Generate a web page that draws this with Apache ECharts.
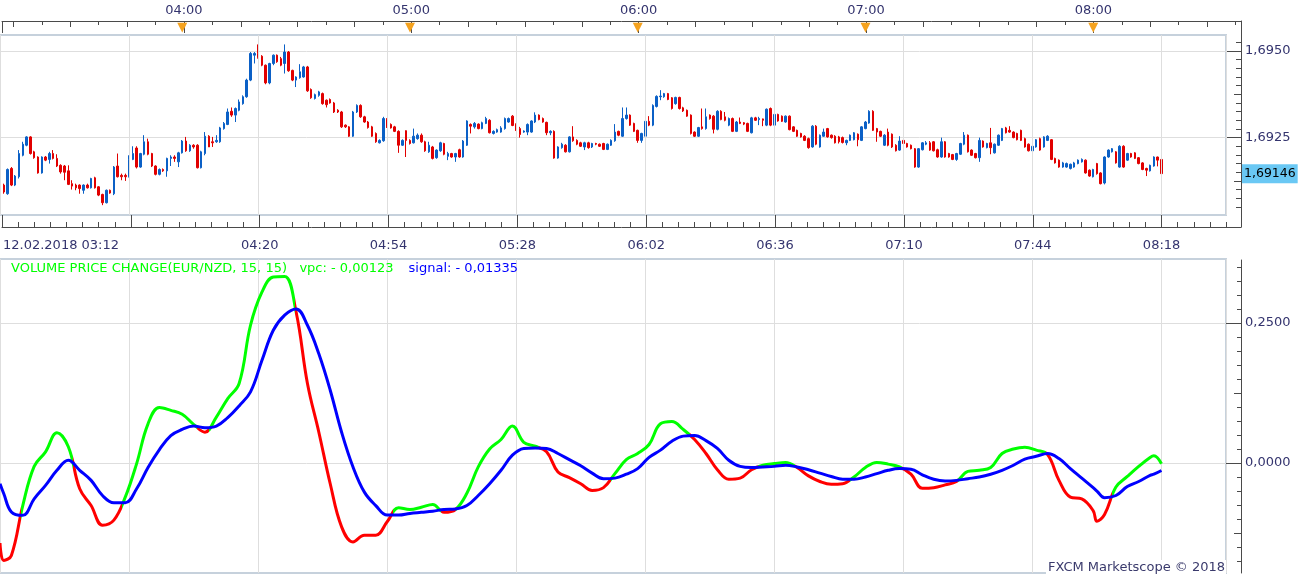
<!DOCTYPE html>
<html>
<head>
<meta charset="utf-8">
<title>EUR/NZD - Volume Price Change</title>
<script src="https://cdn.jsdelivr.net/npm/echarts@6.0.0/dist/echarts.min.js"></script>
<style>
  html, body { margin: 0; padding: 0; background: #fff; }
  #chart { width: 1307px; height: 576px; }
</style>
</head>
<body>
<div id="chart"></div>
<script>
// EUR/NZD, 1 minute candles, 12.02.2018 03:12 .. 08:18
// prices are points above 1.69000 (1 point = 0.00001)
const PRICE_BASE = 1.69;
const START_TIME = 3 * 60 + 12; // 03:12

const opens = [
  146,113,88,161,113,137,199,228,252,209, 194,148,194,187,204,190,170,168,154,117,
  113,113,98,113,105,134,108,86,62,98, 88,168,141,141,137,187,220,165,202,238,
  204,168,144,158,154,190,194,180,206,240, 212,228,228,163,204,254,238,238,238,276,
  288,326,315,329,348,368,416,488,493,485, 459,408,464,488,478,464,497,444,416,423,
  425,454,389,363,372,377,358,360,350,329, 324,286,281,254,324,343,310,295,281,262,
  235,241,303,288,281,268,228,270,242,235, 247,257,238,209,223,192,212,233,196,204,
  194,215,194,228,288,281,289,276,291,300, 262,266,266,276,295,312,289,276,266,266,
  266,295,315,305,294,264,268,191,221,228, 209,252,242,235,223,235,223,233,231,233,
  216,228,241,268,254,305,315,291,271,242, 254,297,286,340,368,368,377,365,348,366,
  336,329,315,266,254,281,276,315,312,274, 326,310,286,305,268,295,293,291,264,307,
  302,304,286,334,286,317,312,295,312,281, 271,262,254,247,223,283,223,254,276,257,
  254,252,250,235,242,244,260,242,276,292, 326,276,268,228,266,260,228,214,242,233,
  228,218,165,215,231,235,238,215,194,238, 204,201,187,202,231,257,214,204,192,240,
  221,235,206,228,242,278,271,266,262,271, 247,231,212,223,247,223,242,244,190,185,
  165,165,161,165,175,180,185,156,137,175, 148,119,194,209,209,165,225,185,204,206,
  192,177,161,154,168,194,187
];
const closes = [
  90,93,158,113,139,204,231,252,204,192, 148,194,185,204,190,168,151,150,115,110,
  105,103,113,105,132,105,84,62,98,90, 165,137,137,137,187,204,165,204,238,202,
  168,144,158,154,190,194,190,206,240,212, 228,223,163,209,254,223,235,242,278,291,
  324,315,334,353,368,416,493,493,481,459, 408,464,488,469,459,497,443,416,425,440,
  454,385,365,374,382,348,345,350,324,324, 281,281,254,324,343,310,295,279,254,238,
  242,305,281,278,268,228,242,242,233,254, 257,238,212,228,190,214,235,202,204,194,
  204,194,240,298,283,291,276,293,305,264, 268,273,278,305,305,285,271,259,269,288,
  298,315,302,295,264,268,191,223,231,209, 252,241,231,225,235,221,233,231,225,216,
  231,242,266,257,305,315,286,268,242,262, 297,286,343,369,370,377,360,334,366,334,
  327,312,262,254,279,276,310,305,274,326, 302,300,305,268,295,291,289,268,307,300,
  305,300,332,286,317,298,297,312,273,268, 254,252,242,221,283,231,257,266,252,250,
  235,238,236,242,257,264,244,281,295,326, 271,266,254,257,228,223,212,240,233,223,
  218,165,218,235,235,214,212,194,238,194, 194,187,204,233,257,209,199,192,242,223,
  233,221,231,257,276,264,266,250,244,242, 223,212,225,244,214,252,254,187,177,165,
  177,175,173,177,185,187,148,139,158,146, 117,194,214,218,177,225,165,204,194,190,
  175,158,156,170,194,185,146
];
const lows = [
  86,88,85,110,110,132,196,225,201,189, 146,146,182,175,187,165,146,127,113,100,
  98,88,88,103,103,103,81,55,60,88, 84,135,127,125,135,185,161,163,199,199,
  165,141,141,151,137,168,180,165,204,209, 209,218,161,161,199,223,223,235,235,273,
  286,310,295,326,345,365,413,464,478,456, 404,404,459,466,456,435,440,413,396,420,
  423,382,362,360,368,345,337,348,321,321, 278,278,252,252,321,307,293,276,252,235,
  233,238,278,276,266,206,226,194,230,233, 244,235,209,206,187,189,209,199,185,192,
  180,192,192,226,262,276,274,274,289,262, 259,264,264,273,293,283,269,250,264,257,
  264,292,300,293,257,257,189,189,218,207, 207,238,228,223,214,218,220,228,223,214,
  214,226,238,254,252,302,284,266,235,235, 252,283,283,337,358,365,358,331,345,331,
  324,310,259,252,252,273,273,302,262,271, 300,297,283,266,266,289,286,266,262,298,
  286,283,283,283,283,296,295,293,271,266, 252,250,240,218,221,228,221,252,250,247,
  233,233,233,228,240,242,225,240,274,290, 269,238,252,226,225,220,210,212,231,221,
  216,163,163,213,228,212,210,192,192,192, 192,185,183,200,228,207,197,190,180,221,
  219,202,204,226,240,262,264,248,242,240, 221,210,210,221,212,221,240,185,175,163,
  163,163,158,163,173,178,146,137,135,143, 115,115,192,207,175,163,163,183,192,188,
  173,156,139,152,166,167,144
];
const highs = [
  151,117,161,165,142,214,238,254,254,212, 196,196,197,209,214,202,173,171,170,127,
  117,115,115,117,134,137,110,88,100,100, 168,204,146,146,199,225,225,206,257,247,
  206,170,161,161,192,199,199,209,243,252, 231,231,231,212,266,257,252,257,281,295,
  334,337,337,360,372,420,497,497,519,488, 461,466,490,490,483,519,500,446,427,462,
  457,457,392,377,385,380,360,363,353,332, 327,288,283,327,346,346,313,298,284,265,
  245,310,306,291,284,271,245,271,245,276, 262,262,241,238,226,216,238,235,209,206,
  206,218,243,300,291,295,291,296,310,303, 271,276,283,308,308,315,291,281,271,291,
  300,323,317,308,296,271,271,225,235,231, 254,283,245,238,238,238,235,235,233,235,
  233,245,289,270,337,337,317,293,273,264, 300,312,346,372,387,379,379,367,368,368,
  339,331,317,268,281,334,334,317,315,329, 329,324,308,308,298,308,295,293,310,310,
  310,305,334,337,319,319,314,314,314,283, 273,264,257,250,286,286,259,276,278,259,
  257,255,253,244,259,266,262,283,298,329, 329,278,270,260,276,262,231,254,244,235,
  230,220,220,237,240,240,240,218,250,240, 206,203,206,235,266,259,216,206,250,242,
  235,278,233,259,278,281,283,268,264,273, 250,233,228,246,250,254,257,246,192,187,
  180,178,175,180,187,190,187,158,160,177, 150,196,216,220,211,228,228,206,206,208,
  194,179,163,172,196,195,189
];

// Volume Price Change (15, 15): minutes after 03:12, vpc and signal values
const lineMinutes = [
  0,1,3,6,9,12,15,18,21,24,27,30,33,36,39,42,45,48,51,54,57,60,63,66,69,72,75,78,81,84,
  87,90,93,96,99,102,105,108,111,114,117,120,123,126,129,132,135,138,141,144,147,150,153,156,159,162,165,168,171,174,
  177,180,183,186,189,192,195,198,201,204,207,210,213,216,219,222,225,228,231,234,237,240,243,246,249,252,255,258,261,264,
  267,270,273,276,279,282,285,288,289,291,294,297,300,303,304,306
];
const vpc = [
  -0.143,-0.174,-0.165,-0.076,-0.006,0.020,0.054,0.029,-0.046,-0.076,-0.111,-0.102,-0.061,-0.001,0.070,0.099,0.094,0.087,0.069,0.055,
  0.082,0.115,0.142,0.246,0.305,0.332,0.333,0.270,0.142,0.055,-0.037,-0.114,-0.141,-0.129,-0.129,-0.105,-0.080,-0.083,-0.079,-0.074,
  -0.088,-0.083,-0.054,-0.007,0.025,0.042,0.066,0.037,0.030,0.020,-0.016,-0.026,-0.037,-0.049,-0.044,-0.019,0.006,0.017,0.033,0.070,
  0.074,0.060,0.042,0.017,-0.012,-0.029,-0.027,-0.012,-0.004,-0.001,0.001,-0.008,-0.023,-0.033,-0.038,-0.037,-0.025,-0.008,0.001,-0.002,
  -0.007,-0.020,-0.045,-0.044,-0.039,-0.033,-0.015,-0.013,-0.008,0.017,0.025,0.028,0.023,0.015,-0.031,-0.061,-0.064,-0.085,-0.104,-0.092,
  -0.043,-0.024,-0.006,0.010,0.013,-0.00123
];
const signal = [
  -0.037,-0.055,-0.0875,-0.0935,-0.064,-0.040,-0.013,0.005,-0.013,-0.031,-0.058,-0.071,-0.071,-0.046,-0.008,0.024,0.049,0.060,0.066,0.063,
  0.066,0.081,0.102,0.127,0.183,0.237,0.264,0.275,0.246,0.195,0.130,0.055,-0.007,-0.052,-0.076,-0.093,-0.093,-0.090,-0.088,-0.086,
  -0.083,-0.082,-0.076,-0.058,-0.037,-0.013,0.014,0.026,0.027,0.026,0.017,0.006,-0.005,-0.018,-0.028,-0.027,-0.020,-0.010,0.010,0.023,
  0.039,0.048,0.049,0.040,0.026,0.005,-0.006,-0.008,-0.007,-0.006,-0.004,-0.007,-0.012,-0.018,-0.024,-0.029,-0.029,-0.025,-0.019,-0.013,
  -0.010,-0.011,-0.021,-0.029,-0.032,-0.031,-0.028,-0.025,-0.020,-0.013,-0.004,0.007,0.012,0.017,0.008,-0.010,-0.027,-0.044,-0.050,-0.062,
  -0.058,-0.042,-0.033,-0.022,-0.020,-0.01335
];

// axis marks
const hourMarks = [48, 108, 168, 228, 288];                 // 04:00 .. 08:00
const bottomLabelMinutes = [0, 68, 102, 136, 170, 204, 238, 272, 306];
const priceLabels = [1.6925, 1.695];
const priceMidTicks = [1.69125, 1.69375];
const vpcLabels = [0, 0.25];
const vpcMidTicks = [-0.125, 0.125];

// layout
const PLOT_W = 1226, AXIS_W = 1241;
const N_SLOTS = 324;           // one slot per minute, 03:12 .. 08:35
const X_MAX = N_SLOTS - 1;
const X_MAX_AXIS = X_MAX * AXIS_W / PLOT_W;
const PRICE_MAX = 1.695462, PRICE_MIN = 1.690266;   // top panel, 180px
const PRICE_PX = (PRICE_MAX - PRICE_MIN) / 180;
const VPC_MAX = 0.3643, VPC_MIN = -0.1964;           // bottom panel, 314px

const UP = '#0b60c6', DOWN = '#e10000';
const GREEN = '#00ff00', RED = '#ff0000', BLUE = '#0000ff';
const TEXT = '#34346e', AXIS = '#4a4a4a', GRID = '#dedede', FRAME = '#c6d1dc';
const FONT = 'DejaVu Sans';

const pad = n => (n < 10 ? '0' : '') + n;
const hhmm = m => {
  const t = START_TIME + Math.round(m);
  return pad(Math.floor(t / 60)) + ':' + pad(t % 60);
};
const comma = (v, d) => v.toFixed(d).replace('.', ',');
const signed = (v, d) => (v < 0 ? '- ' : '') + comma(Math.abs(v), d);

const slots = [];
for (let i = 0; i < N_SLOTS; i++) slots.push(hhmm(i));

const price = p => Math.round((PRICE_BASE + p / 1e5) * 1e5) / 1e5;
const candles = opens.map((o, i) => [price(o), price(closes[i]), price(lows[i]), price(highs[i])]);
const lastClose = candles[candles.length - 1][1];

// tick positions (minutes after 03:12 / price / vpc)
const halfQuarterTicks = [], quarterTicks = [], majorTicks = [], minorTicks = [];
const priceTicks = [], vpcTicks = [];
for (let k = 0; 3 + k * 7.5 <= X_MAX_AXIS; k++) halfQuarterTicks.push(3 + k * 7.5);
for (let k = 0; 3 + k * 15 <= X_MAX_AXIS; k++) quarterTicks.push(3 + k * 15);
for (let k = 0; k * 34 <= X_MAX_AXIS; k++) majorTicks.push(k * 34);
for (let k = 0; k * 4.25 <= X_MAX_AXIS; k++) minorTicks.push(k * 4.25);
for (let k = 0; k < 20; k++) priceTicks.push(Math.round((1.6905 + k * 0.00025) * 1e5) / 1e5);
for (let k = 0; k <= 21; k++) vpcTicks.push(Math.round((-0.175 + k * 0.025) * 1e3) / 1e3);

// green while vpc is above its signal, red below
const pieces = [];
let from = -1000, up = vpc[0] >= signal[0];
for (let k = 1; k < lineMinutes.length; k++) {
  const nowUp = vpc[k] >= signal[k];
  if (nowUp !== up) {
    const d0 = vpc[k - 1] - signal[k - 1], d1 = vpc[k] - signal[k];
    const t = lineMinutes[k - 1] + (lineMinutes[k] - lineMinutes[k - 1]) * d0 / (d0 - d1);
    pieces.push({ gte: from, lt: t, color: up ? GREEN : RED });
    from = t;
    up = nowUp;
  }
}
pieces.push({ gte: from, lte: 1000, color: up ? GREEN : RED });

const labelStyle = { color: TEXT, fontFamily: FONT, fontSize: 13 };
const axisLine = { show: true, onZero: false, lineStyle: { color: AXIS, width: 1 } };
const noLine = { show: false, onZero: false };
const off = { show: false };
const ticks = (values, length) =>
  ({ show: true, customValues: values, inside: true, length: length, lineStyle: { color: AXIS } });

// decoration axes share these ranges
const timeTop = { type: 'value', gridIndex: 2, position: 'top', min: 0, max: X_MAX_AXIS, splitLine: off };
const timeBottom = { type: 'value', gridIndex: 2, position: 'bottom', min: 0, max: X_MAX_AXIS, splitLine: off };
const priceAxis = { type: 'value', gridIndex: 2, position: 'right',
  min: PRICE_MIN - 12 * PRICE_PX, max: PRICE_MAX + 14 * PRICE_PX, splitLine: off };
const vpcAxis = { type: 'value', gridIndex: 3, position: 'right',
  min: VPC_MIN, max: VPC_MAX - 1 / 560, splitLine: off };

const option = {
  animation: false,
  backgroundColor: '#fff',
  title: [
    {
      left: 11, top: 260, padding: 0,
      text: '{g|VOLUME PRICE CHANGE(EUR/NZD, 15, 15)   vpc: ' + signed(vpc[vpc.length - 1], 5) +
        '}   {b|signal: ' + signed(signal[signal.length - 1], 5) + '}',
      textStyle: {
        fontWeight: 'normal',
        rich: {
          g: { color: GREEN, fontFamily: FONT, fontSize: 13, fontWeight: 'normal' },
          b: { color: BLUE, fontFamily: FONT, fontSize: 13, fontWeight: 'normal' }
        }
      }
    },
    {
      right: 81, bottom: 2, padding: [1, 1, 0, 2], backgroundColor: '#fff',
      text: 'FXCM Marketscope \u00a9 2018',
      textStyle: { color: '#3a3a6c', fontFamily: FONT, fontSize: 13, fontWeight: 'normal' }
    }
  ],
  visualMap: { type: 'piecewise', show: false, seriesIndex: 1, dimension: 0, pieces: pieces },
  grid: [
    { left: 0, top: 35, width: PLOT_W, height: 180, show: true, borderColor: FRAME, borderWidth: 2 },
    { left: 0, top: 259, width: PLOT_W, height: 314, show: true, borderColor: FRAME, borderWidth: 2 },
    { left: 0, top: 21, width: AXIS_W, height: 206 },
    { left: 0, top: 260, width: AXIS_W, height: 313 }
  ],
  xAxis: [
    { type: 'category', gridIndex: 0, data: slots, boundaryGap: false, show: false },
    {
      type: 'value', gridIndex: 1, min: 0, max: X_MAX, interval: 34,
      axisLine: noLine, axisTick: off, axisLabel: off,
      splitLine: { show: true, lineStyle: { color: GRID } }
    },
    Object.assign({
      axisLine: axisLine, axisTick: ticks(halfQuarterTicks, 4),
      axisLabel: Object.assign({ customValues: hourMarks, formatter: hhmm, margin: 4 }, labelStyle)
    }, timeTop),
    Object.assign({ axisLine: noLine, axisTick: ticks(quarterTicks, 6), axisLabel: off }, timeTop),
    Object.assign({ axisLine: noLine, axisTick: ticks([0].concat(hourMarks), 12), axisLabel: off }, timeTop),
    Object.assign({
      axisLine: axisLine, axisTick: ticks(majorTicks, 12),
      axisLabel: Object.assign({
        customValues: bottomLabelMinutes, margin: 12,
        formatter: m => m === 0 ? '{d|12.02.2018 ' + hhmm(m) + '}' : hhmm(m),
        rich: { d: { padding: [0, 0, 0, 118], color: TEXT, fontFamily: FONT, fontSize: 13 } }
      }, labelStyle)
    }, timeBottom),
    Object.assign({ axisLine: noLine, axisTick: ticks(minorTicks, 5), axisLabel: off }, timeBottom),
    { type: 'value', gridIndex: 3, min: 0, max: X_MAX_AXIS, show: false, axisLine: noLine },
    // vertical grid lines of the price panel and the hour markers above it
    {
      type: 'value', gridIndex: 0, position: 'top', min: 0, max: X_MAX, interval: 34, z: 3,
      axisLine: noLine, axisTick: off,
      axisLabel: {
        customValues: hourMarks, formatter: () => '\u25bc', margin: 1,
        color: '#f5a21e', fontFamily: FONT, fontSize: 13
      },
      splitLine: { show: true, lineStyle: { color: GRID } }
    }
  ],
  yAxis: [
    {
      type: 'value', gridIndex: 0, min: PRICE_MIN, max: PRICE_MAX, position: 'left',
      axisLine: noLine, axisLabel: off, splitLine: off,
      axisTick: { show: true, customValues: priceLabels, inside: true, length: PLOT_W, lineStyle: { color: GRID } }
    },
    {
      type: 'value', gridIndex: 1, min: VPC_MIN, max: VPC_MAX, position: 'left',
      axisLine: noLine, axisLabel: off, splitLine: off,
      axisTick: { show: true, customValues: vpcLabels, inside: true, length: PLOT_W, lineStyle: { color: GRID } }
    },
    Object.assign({
      axisLine: axisLine, axisTick: ticks(priceTicks, 5),
      axisLabel: Object.assign({ customValues: priceLabels, formatter: v => comma(v, 4), margin: 4 }, labelStyle)
    }, priceAxis),
    Object.assign({ axisLine: noLine, axisLabel: off, axisTick: ticks(priceMidTicks, 7) }, priceAxis),
    Object.assign({ axisLine: noLine, axisLabel: off, axisTick: ticks(priceLabels, 15) }, priceAxis),
    // last price tag
    Object.assign({
      axisLine: noLine, axisTick: off,
      axisLabel: {
        customValues: [lastClose], formatter: v => comma(v, 5), margin: 1,
        color: '#000', backgroundColor: '#6ac8f4', padding: [3, 2, 3, 2],
        fontFamily: FONT, fontSize: 12.5
      }
    }, priceAxis),
    Object.assign({
      axisLine: axisLine, axisTick: ticks(vpcTicks, 4),
      axisLabel: Object.assign({ customValues: vpcLabels, formatter: v => comma(v, 4), margin: 4 }, labelStyle)
    }, vpcAxis),
    Object.assign({ axisLine: noLine, axisLabel: off, axisTick: ticks(vpcMidTicks, 7) }, vpcAxis),
    Object.assign({ axisLine: noLine, axisLabel: off, axisTick: ticks(vpcLabels, 15) }, vpcAxis)
  ],
  series: [
    {
      name: 'EUR/NZD', type: 'candlestick', xAxisIndex: 0, yAxisIndex: 0,
      data: candles, barWidth: 2,
      itemStyle: { color: UP, color0: DOWN, borderColor: UP, borderColor0: DOWN, borderWidth: 1 }
    },
    {
      name: 'vpc', type: 'line', xAxisIndex: 1, yAxisIndex: 1,
      data: lineMinutes.map((m, k) => [m, vpc[k]]),
      showSymbol: false, smooth: 0.4, lineStyle: { width: 3 }
    },
    {
      name: 'signal', type: 'line', xAxisIndex: 1, yAxisIndex: 1,
      data: lineMinutes.map((m, k) => [m, signal[k]]),
      showSymbol: false, smooth: 0.4,
      itemStyle: { color: BLUE }, lineStyle: { width: 3, color: BLUE }
    }
  ]
};

const chart = echarts.init(document.getElementById('chart'));
chart.setOption(option);
</script>
</body>
</html>
